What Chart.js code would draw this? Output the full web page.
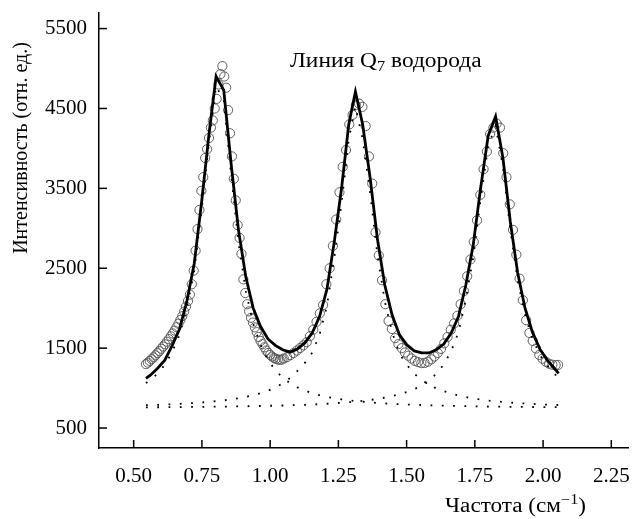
<!DOCTYPE html>
<html><head><meta charset="utf-8">
<script src="https://cdn.jsdelivr.net/npm/chart.js@4"></script>
<style>html,body{margin:0;padding:0;background:#fff;overflow:hidden}</style>
</head><body>
<canvas id="c" width="634" height="519"></canvas>
<script>
// ---- tick labels ----
const xTicks = [0.50, 0.75, 1.00, 1.25, 1.50, 1.75, 2.00, 2.25];
const yTicks = [500, 1500, 2500, 3500, 4500, 5500];

// ---- texts ----
const chartTitle = ['Линия Q', '7', ' водорода'];
const xTitle = ['Частота (см', '−1', ')'];
const yTitle = 'Интенсивность (отн. ед.)';

// ---- measured points (open circles) ----
const dataX = [0.545,0.552,0.559,0.566,0.573,0.580,0.587,0.594,0.601,0.608,0.615,0.622,0.629,0.636,0.643,0.650,0.657,0.664,0.671,0.678,0.685,0.692,0.699,0.706,0.713,0.720,0.727,0.734,0.741,0.748,0.755,0.762,0.769,0.776,0.783,0.790,0.797,0.804,0.811,0.818,0.825,0.832,0.839,0.846,0.853,0.860,0.867,0.874,0.881,0.888,0.895,0.902,0.909,0.916,0.923,0.930,0.937,0.944,0.951,0.958,0.965,0.972,0.979,0.986,0.993,1.000,1.007,1.014,1.021,1.028,1.035,1.042,
1.050,1.062,1.074,1.086,1.098,1.110,1.122,1.134,1.146,1.158,1.170,1.182,1.194,1.206,1.218,1.230,1.242,1.254,1.266,1.278,1.290,1.302,1.314,1.326,1.338,1.350,1.362,1.374,1.386,1.398,1.410,1.422,1.434,1.446,1.458,1.470,1.482,1.494,1.506,1.518,1.530,1.542,1.554,1.566,1.578,1.590,1.602,1.614,1.626,1.638,1.650,1.662,1.674,1.686,1.698,1.710,1.722,1.734,1.746,1.758,1.770,1.782,1.794,1.806,1.818,1.830,1.842,1.854,1.866,1.878,1.890,1.902,1.914,1.926,1.938,1.950,1.962,1.974,1.986,1.998,2.010,2.022,2.034,2.046,2.055];
const dataY = [1300,1318,1340,1362,1385,1410,1438,1462,1492,1520,1548,1580,1612,1648,1684,1720,1762,1806,1852,1900,1958,2020,2090,2170,2300,2470,2720,2990,3230,3470,3640,3880,3990,4130,4260,4350,4500,4620,4800,4930,5030,4900,4760,4480,4190,3900,3620,3350,3040,2880,2680,2360,2190,2050,1960,1880,1820,1760,1700,1640,1590,1550,1510,1470,1440,1415,1395,1378,1366,1358,1354,1356,
1370,1388,1412,1438,1470,1502,1535,1575,1650,1730,1830,1935,2040,2300,2500,2780,3110,3450,3770,3980,4300,4420,4540,4560,4520,4280,3900,3560,2950,2660,2350,2050,1840,1740,1625,1550,1500,1445,1405,1370,1340,1325,1312,1315,1330,1360,1395,1440,1490,1560,1640,1730,1810,1905,2050,2215,2400,2610,2830,3100,3420,3740,3960,4180,4260,4310,4260,3940,3640,3300,2980,2670,2370,2100,1850,1690,1590,1495,1415,1368,1330,1305,1292,1288,1290];

// ---- fitted curve (solid) and its three components (dotted) ----
const fitX = [0.545,0.560,0.587,0.614,0.641,0.668,0.695,0.722,0.749,0.776,0.802,0.830,0.857,0.884,0.911,0.938,0.965,0.992,1.019,1.046,1.073,1.100,1.127,1.154,1.181,1.208,1.235,1.262,1.288,1.3125,1.339,1.366,1.393,1.420,1.447,1.474,1.501,1.528,1.555,1.582,1.609,1.636,1.663,1.690,1.717,1.744,1.771,1.799,1.826,1.853,1.880,1.907,1.934,1.961,1.988,2.015,2.042,2.057];
const fitY = [1120,1158,1245,1350,1530,1740,2090,2560,3330,4180,4900,4730,3810,2980,2390,2000,1770,1615,1535,1480,1450,1490,1565,1690,1895,2235,2830,3510,4300,4710,4300,3640,2870,2290,1915,1665,1540,1465,1440,1440,1480,1550,1685,1895,2290,2790,3500,4160,4400,3880,3080,2440,2000,1700,1490,1350,1245,1185];
const comp1Y = [1062,1097,1179,1290,1450,1665,2005,2470,3230,4070,4780,4600,3670,2820,2210,1805,1540,1352,1224,1131,1062,1009,969,937,911,890,873,858,847,837,829,821,814,808,803,798,794,791,788,785,782,780,778,776,774,772,771,769,768,767,766,765,764,763,762,761,761,760];
const comp2Y = [786,787,791,794,798,803,808,813,820,827,836,846,858,873,890,910,936,967,1007,1059,1126,1216,1315,1443,1670,2026,2632,3321,4115,4528,4116,3453,2677,2087,1698,1429,1290,1180,1100,1045,995,962,932,907,887,870,857,844,834,826,819,812,807,802,797,793,790,788];
const comp3Y = [759,759,760,761,761,762,763,764,765,766,767,768,769,771,772,774,776,778,780,782,785,788,791,795,799,804,810,816,823,830,840,851,864,880,899,923,952,989,1025,1085,1182,1295,1460,1697,2114,2633,3357,4032,4283,3772,2980,2348,1914,1620,1416,1281,1179,1122];

const FONT = '"Liberation Serif", "Times New Roman", serif';
const pts = (xs, ys) => xs.map((x, i) => ({x: x, y: ys[i]}));

// draws a run of [normal, small, normal] text, stretched horizontally
function drawRun(ctx, parts, x0, base, shift, stretch) {
  ctx.save();
  ctx.translate(x0, base);
  ctx.scale(stretch, 1);
  let x = 0;
  ctx.font = '20px ' + FONT;
  ctx.fillText(parts[0], x, 0); x += ctx.measureText(parts[0]).width;
  ctx.font = '14px ' + FONT;
  ctx.fillText(parts[1], x, shift); x += ctx.measureText(parts[1]).width;
  ctx.font = '20px ' + FONT;
  ctx.fillText(parts[2], x, 0);
  ctx.restore();
}

const decor = {
  id: 'decor',
  afterDraw(chart) {
    const ctx = chart.ctx, xs = chart.scales.x, ys = chart.scales.y, a = chart.chartArea;
    ctx.save();
    ctx.strokeStyle = '#000';
    ctx.lineWidth = 1.5;
    xTicks.forEach(v => {
      const p = xs.getPixelForValue(v);
      ctx.beginPath(); ctx.moveTo(p, a.bottom); ctx.lineTo(p, a.bottom - 8); ctx.stroke();
    });
    yTicks.forEach(v => {
      const p = ys.getPixelForValue(v);
      ctx.beginPath(); ctx.moveTo(a.left, p); ctx.lineTo(a.left + 8, p); ctx.stroke();
    });
    ctx.fillStyle = '#000';
    ctx.textBaseline = 'alphabetic';
    ctx.textAlign = 'left';
    drawRun(ctx, chartTitle, 290, 67, 4, 1.17);
    drawRun(ctx, xTitle, 445, 512, -8, 1.16);
    // y axis title
    ctx.translate(22, 148);
    ctx.rotate(-Math.PI / 2);
    ctx.textAlign = 'center';
    ctx.textBaseline = 'middle';
    ctx.font = '20px ' + FONT;
    ctx.fillText(yTitle, 0, 0);
    ctx.restore();
  }
};

new Chart(document.getElementById('c'), {
  type: 'scatter',
  data: {
    datasets: [
      {label: 'fit', data: pts(fitX, fitY), showLine: true, borderColor: '#000', borderWidth: 2.8,
       pointRadius: 0, tension: 0, borderJoinStyle: 'miter', fill: false},
      {label: 'c1', data: pts(fitX, comp1Y), showLine: true, borderColor: '#000', borderWidth: 1.8,
       borderDash: [1.8, 9.5], pointRadius: 0, tension: 0, fill: false},
      {label: 'c2', data: pts(fitX, comp2Y), showLine: true, borderColor: '#000', borderWidth: 1.8,
       borderDash: [1.8, 9.5], pointRadius: 0, tension: 0, fill: false},
      {label: 'c3', data: pts(fitX, comp3Y), showLine: true, borderColor: '#000', borderWidth: 1.8,
       borderDash: [1.8, 9.5], pointRadius: 0, tension: 0, fill: false},
      {label: 'data', data: pts(dataX, dataY), showLine: false, pointStyle: 'circle', pointRadius: 4.6,
       pointBorderWidth: 0.9, pointBorderColor: '#505050', pointBackgroundColor: 'rgba(0,0,0,0)'}
    ]
  },
  options: {
    responsive: false,
    animation: false,
    devicePixelRatio: 1,
    layout: {padding: {top: 13, right: 1, left: 0, bottom: 0}},
    plugins: {legend: {display: false}, tooltip: {enabled: false}},
    scales: {
      x: {
        type: 'linear', position: 'bottom', min: 0.373, max: 2.313,
        grid: {display: false, drawTicks: false},
        border: {display: true, color: '#000', width: 1.5},
        ticks: {color: '#000', font: {family: FONT, size: 21}, padding: 16, maxRotation: 0, autoSkip: false,
                callback: v => Number(v).toFixed(2)},
        afterBuildTicks: s => { s.ticks = xTicks.map(v => ({value: v})); },
        afterFit: s => { s.height = 71; s.paddingLeft = 0; s.paddingRight = 0; }
      },
      y: {
        type: 'linear', position: 'left', min: 250, max: 5695,
        grid: {display: false, drawTicks: false},
        border: {display: true, color: '#000', width: 1.5},
        ticks: {color: '#000', font: {family: FONT, size: 21}, padding: 12, autoSkip: false,
                callback: v => String(v)},
        afterBuildTicks: s => { s.ticks = yTicks.map(v => ({value: v})); },
        afterFit: s => { s.width = 99; s.paddingTop = 0; s.paddingBottom = 0; }
      }
    }
  },
  plugins: [decor]
});
</script>
</body></html>
